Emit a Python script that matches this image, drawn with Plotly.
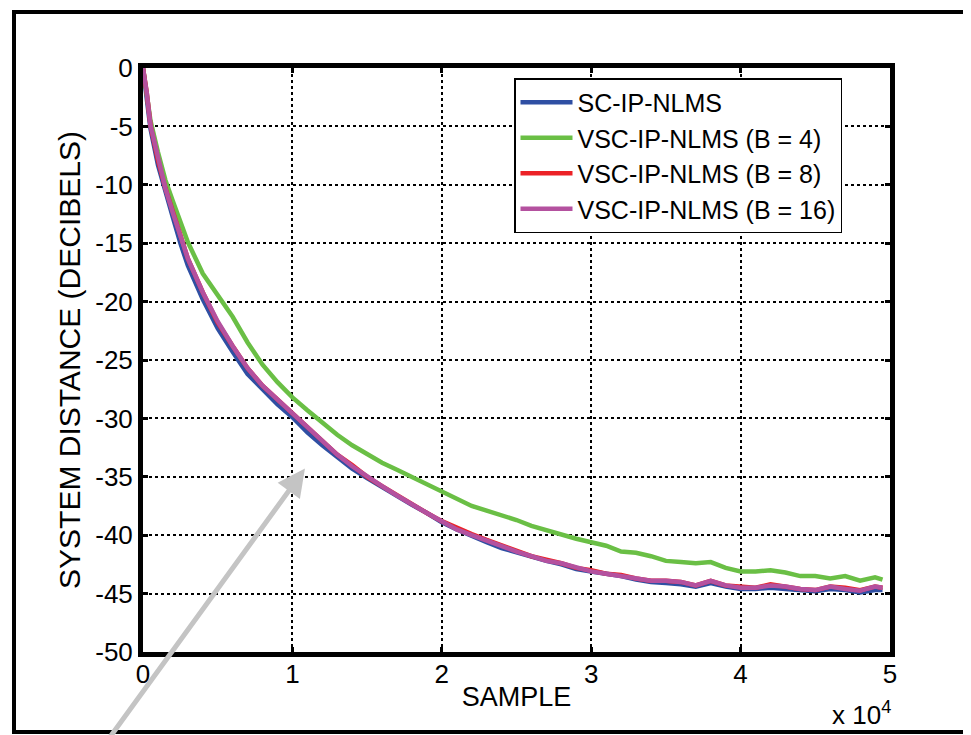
import plotly.graph_objects as go

# ---------------- data ----------------
samples = [0, 250, 500, 1000, 1500, 2000, 2500, 3000, 4000, 5000, 6000, 7000, 8000, 9000,
           10000, 11000, 12000, 13000, 14000, 15000, 16000, 17000, 18000, 19000, 20000,
           21000, 22000, 23000, 24000, 25000, 26000, 27000, 28000, 29000, 30000,
           31000, 32000, 33000, 34000, 35000, 36000, 37000, 38000, 39000, 40000,
           41000, 42000, 43000, 44000, 45000, 46000, 47000, 48000, 49000, 49500]

sc_ip_nlms = [0, -2.3, -5.2, -8.3, -10.7, -12.8, -15.0, -16.9, -19.8, -22.3, -24.3, -26.2,
              -27.5, -28.8, -29.9, -31.2, -32.3, -33.3, -34.3, -35.1, -35.9, -36.6, -37.4,
              -38.1, -38.9, -39.5, -40.1, -40.6, -41.1, -41.5, -41.9, -42.2, -42.5, -42.9,
              -43.1, -43.3, -43.5, -43.8, -44.0, -44.1, -44.2, -44.4, -44.1, -44.4, -44.6,
              -44.6, -44.5, -44.6, -44.7, -44.8, -44.6, -44.7, -44.9, -44.7, -44.7]

vsc_b4 = [0, -2.0, -4.5, -7.2, -9.6, -11.4, -13.2, -14.9, -17.6, -19.5, -21.3, -23.5,
          -25.4, -26.9, -28.2, -29.3, -30.4, -31.4, -32.3, -33.1, -33.8, -34.4, -35.0,
          -35.6, -36.3, -36.9, -37.5, -37.9, -38.3, -38.7, -39.2, -39.6, -40.0, -40.3,
          -40.6, -40.9, -41.4, -41.5, -41.8, -42.2, -42.3, -42.4, -42.3, -42.8, -43.1,
          -43.1, -43.0, -43.2, -43.5, -43.5, -43.7, -43.5, -43.9, -43.6, -43.8]

vsc_b8 = [0, -2.1, -4.9, -7.9, -10.3, -12.4, -14.5, -16.3, -19.2, -21.8, -23.8, -25.7,
          -27.2, -28.4, -29.5, -30.8, -32.0, -33.1, -34.0, -35.0, -35.8, -36.6, -37.3,
          -38.1, -38.8, -39.4, -39.9, -40.4, -40.9, -41.4, -41.8, -42.1, -42.4, -42.8,
          -43.0, -43.3, -43.4, -43.7, -43.9, -43.9, -44.0, -44.3, -43.9, -44.3, -44.4,
          -44.5, -44.2, -44.4, -44.6, -44.7, -44.4, -44.5, -44.7, -44.4, -44.5]

vsc_b16 = [0, -2.1, -4.9, -7.8, -10.3, -12.4, -14.4, -16.3, -19.2, -21.7, -23.8, -25.7,
           -27.2, -28.4, -29.5, -30.8, -32.0, -33.1, -34.1, -35.0, -35.8, -36.6, -37.4,
           -38.1, -38.8, -39.5, -40.0, -40.5, -41.0, -41.4, -41.8, -42.2, -42.4, -42.8,
           -43.1, -43.3, -43.5, -43.7, -43.9, -43.9, -44.0, -44.3, -43.9, -44.3, -44.5,
           -44.5, -44.3, -44.4, -44.6, -44.7, -44.4, -44.6, -44.75, -44.4, -44.5]

series_names = ["SC-IP-NLMS", "VSC-IP-NLMS (B = 4)", "VSC-IP-NLMS (B = 8)", "VSC-IP-NLMS (B = 16)"]
series_values = [sc_ip_nlms, vsc_b4, vsc_b8, vsc_b16]
series_colors = ["#2f4fa3", "#6abf45", "#ec2227", "#b4519f"]

x_tickvals = [0, 10000, 20000, 30000, 40000, 50000]
x_ticktext = ["0", "1", "2", "3", "4", "5"]
y_tickvals = [0, -5, -10, -15, -20, -25, -30, -35, -40, -45, -50]
y_ticktext = ["0", "-5", "-10", "-15", "-20", "-25", "-30", "-35", "-40", "-45", "-50"]

# gray arrow annotation: tip and tail in data units
arrow_tip_x, arrow_tip_y = 10840, -34.3
arrow_tail_x, arrow_tail_y = -3300, -59.2

FONT = "Liberation Sans, Arial, sans-serif"

# page body has an 8px margin, so figure pixel = page pixel - OFF
OFF = 8
W, H = 971 - OFF, 735 - OFF
PL, PR, PT, PB = 143 - OFF, 890 - OFF, 68 - OFF, 652 - OFF
PW, PH = PR - PL, PB - PT


def px(xp):
    return (xp - OFF - PL) / PW


def py(yp):
    return (PB - (yp - OFF)) / PH


fig = go.Figure()
for name, vals, col in zip(series_names, series_values, series_colors):
    fig.add_trace(go.Scatter(x=samples, y=vals, mode="lines", name=name,
                             line=dict(color=col, width=4.5)))

axis_common = dict(
    showline=True, linecolor="black", linewidth=5, mirror="ticks",
    ticks="inside", ticklen=5, tickwidth=3, tickcolor="black",
    showgrid=True, gridcolor="black", gridwidth=2, griddash="dot",
    zeroline=False, tickfont=dict(family=FONT, size=26, color="black"),
)

fig.update_xaxes(range=[0, 50000], tickvals=x_tickvals, ticktext=x_ticktext,
                 title=dict(text="SAMPLE", font=dict(family=FONT, size=27, color="black"), standoff=0),
                 **axis_common)
fig.update_yaxes(range=[-50, 0], tickvals=y_tickvals, ticktext=y_ticktext,
                 title=dict(text="SYSTEM DISTANCE (DECIBELS)", font=dict(family=FONT, size=30, color="black"), standoff=7),
                 **axis_common)
try:
    fig.update_xaxes(ticklabelstandoff=-5)
except Exception:
    pass

fig.update_layout(
    width=W, height=H,
    margin=dict(l=PL, r=W - PR, t=PT, b=H - PB, autoexpand=False),
    paper_bgcolor="white", plot_bgcolor="white",
    font=dict(family=FONT, color="black"),
    legend=dict(x=px(514), y=py(78), xanchor="left", yanchor="top",
                bgcolor="white", bordercolor="black", borderwidth=1.5,
                font=dict(family=FONT, size=25, color="black"),
                itemwidth=52, tracegroupgap=0),
    showlegend=True,
)

# outer figure frame
fig.add_shape(type="rect", xref="paper", yref="paper",
              x0=px(14), x1=px(990), y0=py(732), y1=py(12),
              line=dict(color="black", width=4), fillcolor="rgba(0,0,0,0)", layer="below")

fig.add_annotation(text="x 10<sup>4</sup>", xref="paper", yref="paper",
                   x=px(893), y=py(713), xanchor="right", yanchor="middle", showarrow=False,
                   font=dict(family=FONT, size=26, color="black"))

fig.add_annotation(x=arrow_tip_x, y=arrow_tip_y, xref="x", yref="y", text="",
                   showarrow=True, axref="x", ayref="y", ax=arrow_tail_x, ay=arrow_tail_y,
                   arrowcolor="#c4c4c4", arrowwidth=5, arrowhead=2, arrowsize=1.1)

fig.write_html("out.html")
